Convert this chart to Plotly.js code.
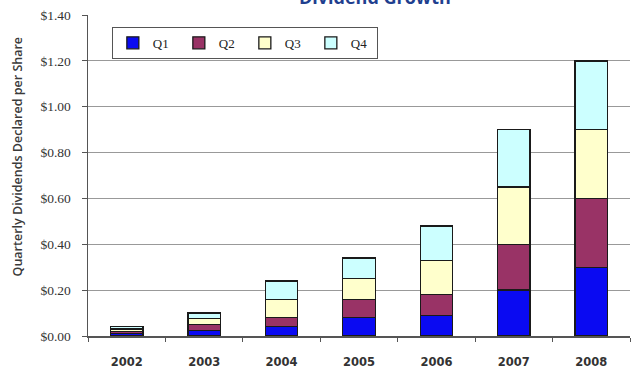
<!DOCTYPE html>
<html>
<head>
<meta charset="utf-8">
<script src="https://cdn.plot.ly/plotly-3.0.1.min.js"></script>
<style>
  html, body { margin: 0; padding: 0; background: #fff; }
  #chart { width: 631px; height: 370px; }
</style>
</head>
<body>
<div id="chart"></div>
<script>
// Quarterly dividends declared per share, by year
const years = ['2002', '2003', '2004', '2005', '2006', '2007', '2008'];
const q1 = [0.01, 0.025, 0.04, 0.08, 0.09, 0.20, 0.30];
const q2 = [0.01, 0.025, 0.04, 0.08, 0.09, 0.20, 0.30];
const q3 = [0.01, 0.025, 0.08, 0.09, 0.15, 0.25, 0.30];
const q4 = [0.01, 0.025, 0.08, 0.09, 0.15, 0.25, 0.30];
const quarterNames = ['Q1', 'Q2', 'Q3', 'Q4'];
const yTicks = [0, 0.2, 0.4, 0.6, 0.8, 1.0, 1.2, 1.4];
const yTickText = ['$0.00', '$0.20', '$0.40', '$0.60', '$0.80', '$1.00', '$1.20', '$1.40'];

const fills = ['#0a0af2', '#993366', '#ffffcc', '#ccffff'];
const series = [q1, q2, q3, q4];

const traces = series.map((vals, i) => ({
  type: 'bar',
  name: quarterNames[i],
  x: years,
  y: vals,
  marker: { color: fills[i], line: { color: '#1a1a1a', width: 1.3 } },
  hoverinfo: 'skip'
}));

const layout = {
  width: 631,
  height: 370,
  margin: { l: 88, r: 1, t: 15, b: 34 },
  paper_bgcolor: '#ffffff',
  plot_bgcolor: '#ffffff',
  barmode: 'stack',
  bargap: 0.58,
  showlegend: true,
  legend: {
    orientation: 'h',
    x: 0.044, xanchor: 'left',
    y: 0.963, yanchor: 'top',
    bgcolor: '#ffffff',
    bordercolor: '#555',
    borderwidth: 1,
    traceorder: 'normal',
    itemwidth: 30,
    entrywidth: 21,
    entrywidthmode: 'pixels',
    font: { family: 'Liberation Serif, DejaVu Serif, serif', size: 13, color: '#222' }
  },
  xaxis: {
    type: 'category',
    showgrid: false,
    showline: true,
    linecolor: '#555',
    linewidth: 1.5,
    ticks: 'outside',
    tickson: 'boundaries',
    ticklen: 4,
    tickcolor: '#555',
    ticklabelstandoff: 15,
    tickfont: { family: 'DejaVu Sans, Verdana, sans-serif', size: 11.5, color: '#333', weight: 'bold' },
    fixedrange: true
  },
  yaxis: {
    range: [0, 1.4],
    tickvals: yTicks,
    ticktext: yTickText,
    showgrid: true,
    gridcolor: '#999',
    gridwidth: 1,
    zeroline: false,
    showline: true,
    linecolor: '#555',
    linewidth: 1.5,
    ticks: 'outside',
    ticklen: 5,
    tickcolor: '#555',
    ticklabelstandoff: 8,
    tickfont: { family: 'Liberation Serif, DejaVu Serif, serif', size: 13.5, color: '#333' },
    fixedrange: true
  },
  annotations: [
    {
      text: '<b>Dividend Growth</b>',
      xref: 'paper', yref: 'paper',
      x: 0.53, y: 1.056,
      xanchor: 'center', yanchor: 'middle',
      showarrow: false,
      font: { family: 'Open Sans, DejaVu Sans, sans-serif', size: 18, color: '#1f3f8f' }
    },
    {
      text: 'Quarterly Dividends Declared per Share',
      xref: 'paper', yref: 'paper',
      x: -0.13, y: 0.558,
      xanchor: 'center', yanchor: 'middle',
      textangle: -90,
      showarrow: false,
      font: { family: 'Open Sans, DejaVu Sans, sans-serif', size: 12.5, color: '#3a3a3a', weight: 600 }
    }
  ]
};

Plotly.newPlot('chart', traces, layout, { displayModeBar: false, staticPlot: true });
</script>
</body>
</html>
